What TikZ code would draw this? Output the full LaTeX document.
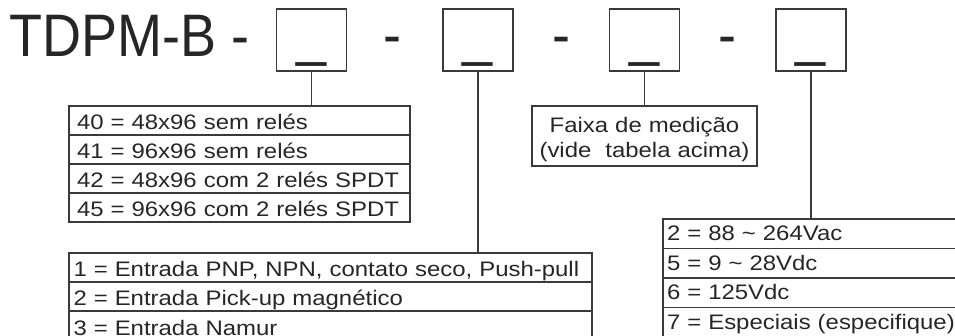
\documentclass[tikz,border=0pt]{standalone}
\usepackage{fontspec}
\setmainfont{Liberation Sans}
\newfontfamily\titlefont[FakeStretch=0.9]{Liberation Sans}
\newfontfamily\rowfont[FakeStretch=1.14]{Liberation Sans}
\usetikzlibrary{positioning}
\definecolor{ink}{HTML}{262626}
\definecolor{rulegray}{HTML}{3A3A3A}
\tikzset{
	slot/.style={draw=rulegray,line width=1.8pt,minimum width=70pt,minimum height=62pt,inner sep=0pt},
	sep/.style={font=\titlefont\fontsize{60}{60}\selectfont,text=ink,inner sep=0pt,anchor=base},
	wire/.style={draw=rulegray,line width=1.4pt},
	row/.style={draw=rulegray,line width=1.4pt,outer sep=0pt,text=ink,align=left,
		font=\rowfont\fontsize{21}{24}\selectfont,inner ysep=0pt,
		minimum height=29pt,text height=19pt,text depth=0pt},
	rowA/.style={row,text width=325pt,inner xsep=8pt},
	rowB/.style={row,text width=514pt,inner xsep=4.5pt},
	rowD/.style={row,text width=292pt,inner xsep=4pt,minimum height=29.5pt,text height=14pt},
}
\begin{document}
\begin{tikzpicture}[x=1pt,y=-1pt]
	\useasboundingbox (0,0) rectangle (955,336);
	\clip (0,0) rectangle (955,336);
	\node[sep,anchor=base west] (title) at (9,57) {TDPM-B -};
	\foreach \i/\x in {1/311.5,2/478,3/644.5,4/811}{
		\node[slot] (s\i) at (\x,40) {};
		\node[sep] (u\i) at (\x,54.5) {\_};
	}
	\foreach \i/\x in {2/392,3/561.5,4/727.5}
		\node[sep] (d\i) at (\x,56) {-};
	\node[rowA,anchor=north west] (a1) at (69,106) {40 = 48x96 sem relés};
	\node[rowA,below=0pt of a1] (a2) {41 = 96x96 sem relés};
	\node[rowA,below=0pt of a2] (a3) {42 = 48x96 com 2 relés SPDT};
	\node[rowA,below=0pt of a3] (a4) {45 = 96x96 com 2 relés SPDT};
	\node[rowB,anchor=north west] (b1) at (69,253) {1 = Entrada PNP, NPN, contato seco, Push-pull};
	\node[rowB,below=0pt of b1] (b2) {2 = Entrada Pick-up magnético};
	\node[rowB,below=0pt of b2] (b3) {3 = Entrada Namur};
	\node[row,anchor=north,text width=217pt,inner xsep=4pt,align=center,
		font=\rowfont\fontsize{21}{24.5}\selectfont,
		minimum height=60pt,text height=15pt,text depth=21pt] (range) at (644.5,106)
		{Faixa de medição\\(vide\ \ tabela acima)};
	\node[rowD,anchor=north west] (p1) at (663,219) {2 = 88 \textasciitilde{} 264Vac};
	\node[rowD,below=0pt of p1] (p2) {5 = 9 \textasciitilde{} 28Vdc};
	\node[rowD,below=0pt of p2] (p3) {6 = 125Vdc};
	\node[rowD,below=0pt of p3] (p4) {7 = Especiais (especifique)};
	\draw[wire] (s1.south) -- (s1.south |- a1.north);
	\draw[wire] (s2.south) -- (s2.south |- b1.north);
	\draw[wire] (s3.south) -- (range.north);
	\draw[wire] (s4.south) -- (s4.south |- p1.north);
\end{tikzpicture}
\end{document}
